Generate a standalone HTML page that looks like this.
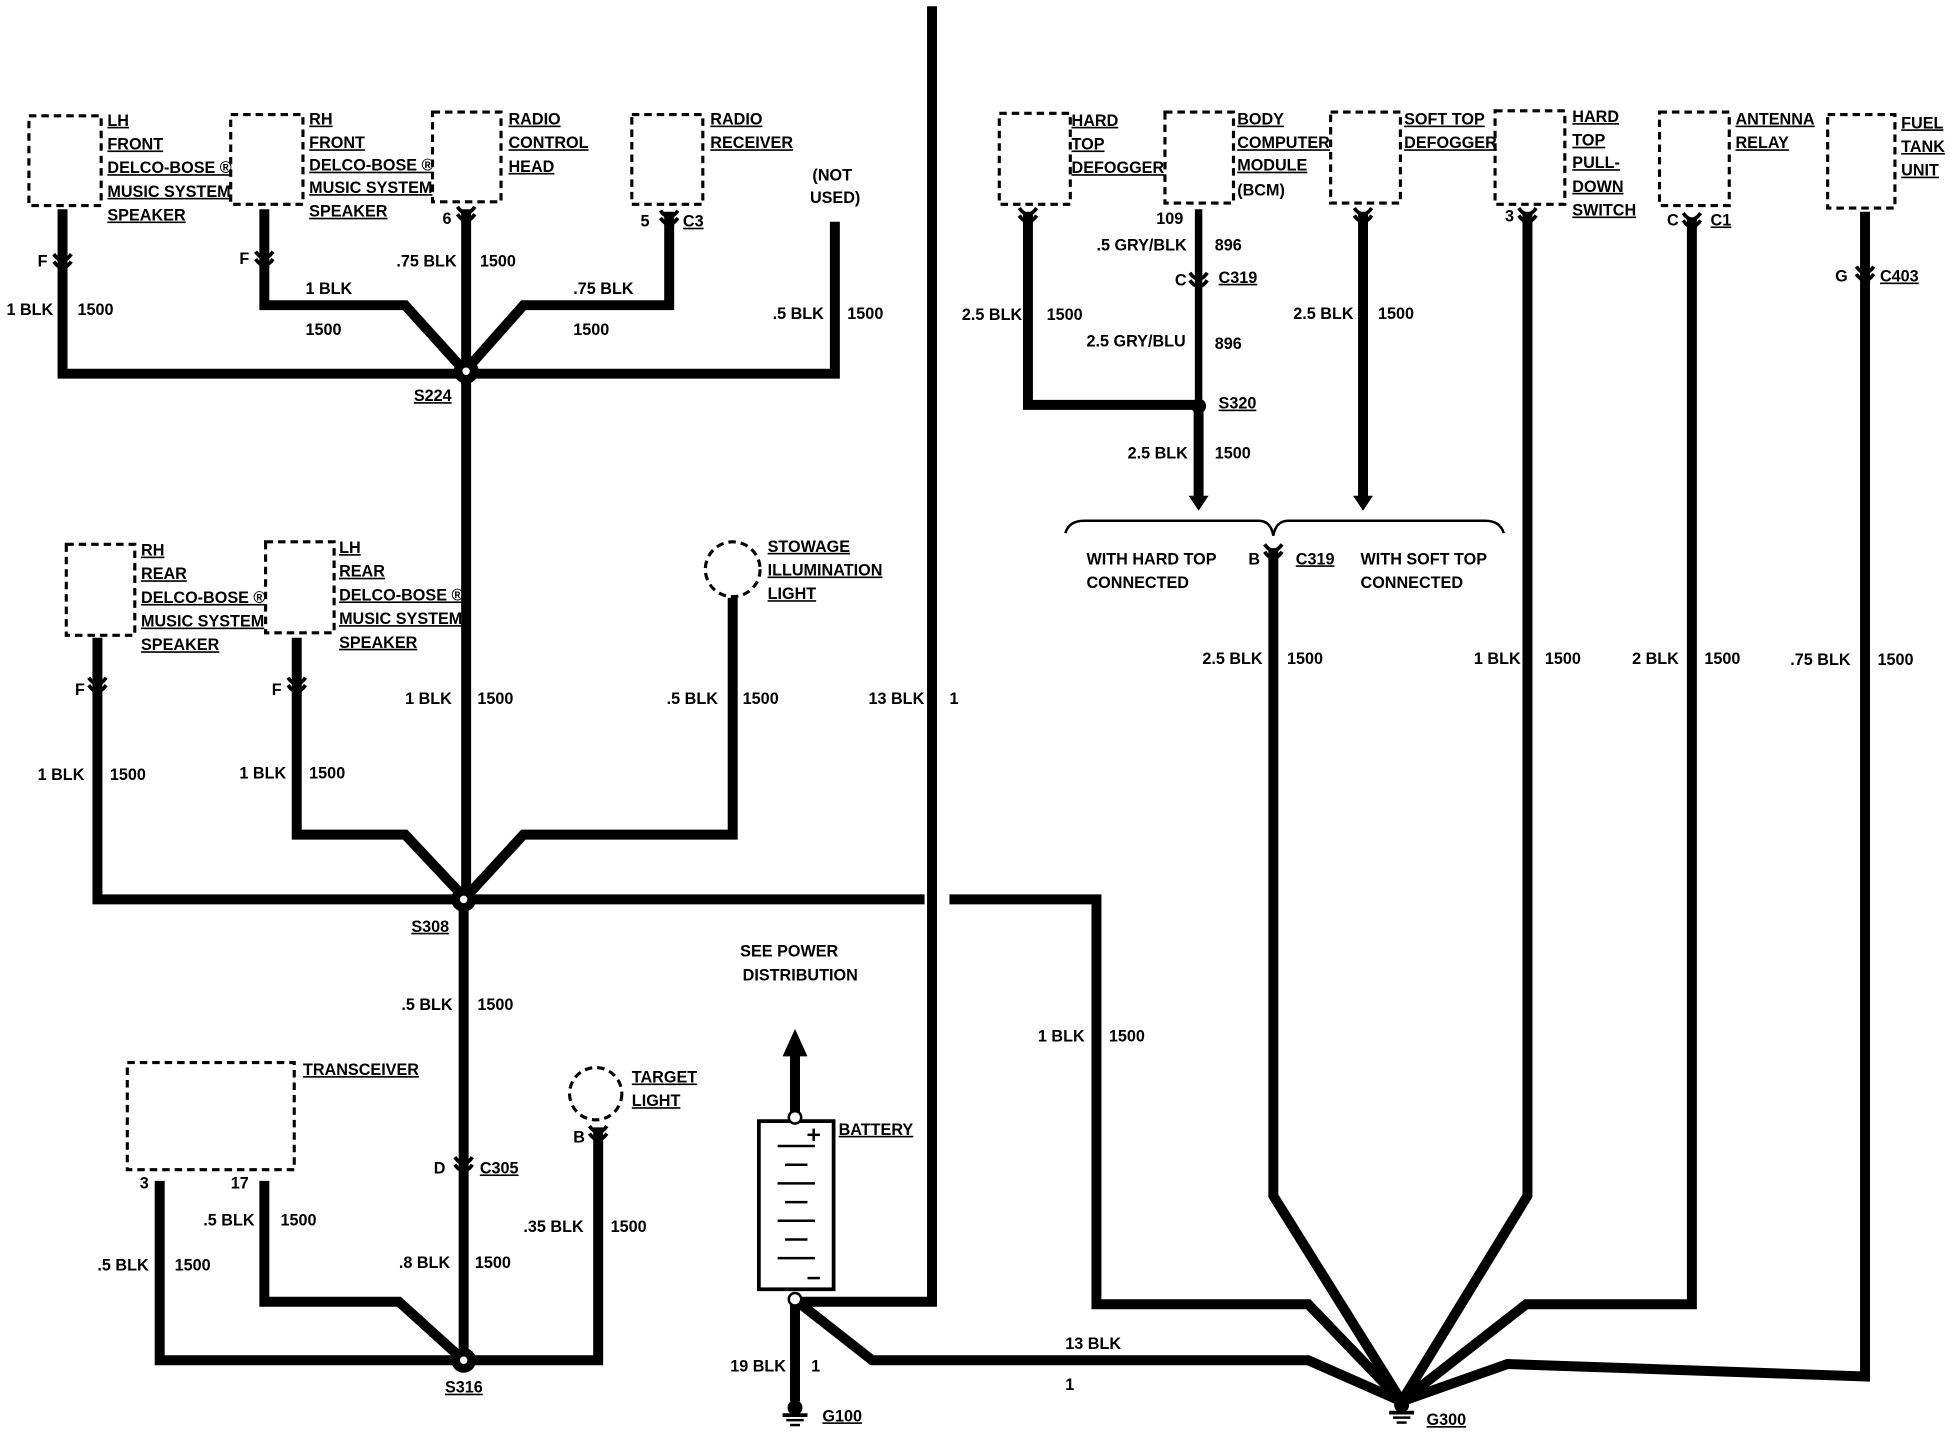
<!DOCTYPE html>
<html><head><meta charset="utf-8">
<style>
html,body{margin:0;padding:0;background:#fff;}
svg{display:block;}
text{font-family:"Liberation Sans",Arial,sans-serif;font-weight:bold;font-size:13px;fill:#000;}
.u{text-decoration:underline;}
</style></head>
<body>
<svg width="1950" height="1440" viewBox="0 0 1565 1156" xmlns="http://www.w3.org/2000/svg">
<defs>
<g id="cup"><path d="M-7,-6 Q0,4 7,-6" fill="none" stroke="#000" stroke-width="3"/><path d="M-7,0 Q0,10 7,0" fill="none" stroke="#000" stroke-width="3"/></g>
<g id="spl"><circle r="10" fill="#000"/><circle r="3" fill="#fff"/></g>
<g id="gnd"><circle r="6" fill="#000"/><line x1="-10" y1="6" x2="10" y2="6" stroke="#000" stroke-width="3"/><line x1="-7" y1="10" x2="7" y2="10" stroke="#000" stroke-width="2"/><line x1="-4" y1="14" x2="4" y2="14" stroke="#000" stroke-width="2"/></g>
</defs>
<g fill="none" stroke="#000" stroke-width="2.5" stroke-dasharray="6,4">
<rect x="23" y="93" width="58" height="72"/>
<rect x="185" y="92" width="58" height="72"/>
<rect x="347" y="90" width="55" height="72"/>
<rect x="507" y="92" width="57" height="72"/>
<rect x="53" y="437" width="55" height="73"/>
<rect x="213" y="435" width="55" height="73"/>
<circle cx="588" cy="457" r="22"/>
<rect x="102" y="853" width="134" height="86"/>
<circle cx="478" cy="878" r="21"/>
<rect x="802" y="91" width="57" height="73"/>
<rect x="935" y="90" width="55" height="73"/>
<rect x="1068" y="90" width="56" height="73"/>
<rect x="1200" y="89" width="56" height="75"/>
<rect x="1332" y="90" width="56" height="75"/>
<rect x="1467" y="92" width="54" height="75"/>
</g>
<g fill="none" stroke="#000" stroke-width="8" stroke-linejoin="miter">
<path d="M50,168 V300 H372"/>
<path d="M212,168 V245 H325 L372,297"/>
<path d="M374,168 V297"/>
<path d="M537,170 V245 H420 L374,297"/>
<path d="M670,178 V300 H374"/>
<path d="M374,298 V722"/>
<path d="M78,512 V722 H372"/>
<path d="M238,512 V670 H325 L372,720"/>
<path d="M588,480 V670 H420 L374,720"/>
<path d="M372,722 H742"/>
<path d="M748,5 V1045 H640"/>
<path d="M372,722 V1092"/>
<path d="M128,948 V1092 H372"/>
<path d="M212,948 V1045 H320 L372,1092"/>
<path d="M480,905 V1092 H372"/>
<path d="M638,1043 V1125"/>
<path d="M640,1045 L700,1092 H1050 L1125,1125"/>
<path d="M825,170 V325 H962"/>
<path d="M962,326 V400"/>
<path d="M1094,170 V400"/>
<path d="M1022,440 V960 L1125,1125"/>
<path d="M1226,170 V960 L1125,1125"/>
<path d="M1358,175 V1047 H1225 L1125,1125"/>
<path d="M1497,170 V1105 L1210,1095 L1125,1125"/>
<path d="M762,722 H880 V1047 H1050 L1125,1125"/>
<path d="M638,895 V845"/>
</g>
<path d="M962,168 V326" stroke="#000" stroke-width="6" fill="none"/>
<path d="M628,848 L638,826 L648,848 Z" fill="#000"/>
<path d="M954,398 L962,410 L970,398 Z" fill="#000"/>
<path d="M1086,398 L1094,410 L1102,398 Z" fill="#000"/>
<path d="M855,428 Q858,418 870,418 H1010 Q1020,418 1022,430 Q1024,418 1034,418 H1192 Q1204,418 1207,428" fill="none" stroke="#000" stroke-width="2"/>
<rect x="609" y="900" width="60" height="135" fill="#fff" stroke="#000" stroke-width="3"/>
<g stroke="#000" stroke-width="2"><line x1="624" y1="920" x2="654" y2="920"/><line x1="630" y1="935" x2="648" y2="935"/><line x1="624" y1="950" x2="654" y2="950"/><line x1="630" y1="965" x2="648" y2="965"/><line x1="624" y1="980" x2="654" y2="980"/><line x1="630" y1="995" x2="648" y2="995"/><line x1="624" y1="1010" x2="654" y2="1010"/>
<line x1="648" y1="911" x2="658" y2="911"/><line x1="653" y1="906" x2="653" y2="916"/><line x1="648" y1="1026" x2="658" y2="1026"/></g>
<circle cx="638" cy="897" r="5" fill="#fff" stroke="#000" stroke-width="2"/>
<circle cx="638" cy="1043" r="5" fill="#fff" stroke="#000" stroke-width="2"/>
<use href="#cup" x="50" y="210"/><use href="#cup" x="212" y="208"/><use href="#cup" x="374" y="172"/><use href="#cup" x="537" y="175"/>
<use href="#cup" x="78" y="550"/><use href="#cup" x="238" y="550"/><use href="#cup" x="372" y="935"/><use href="#cup" x="480" y="910"/>
<use href="#cup" x="962" y="225"/><use href="#cup" x="825" y="173"/><use href="#cup" x="1094" y="173"/><use href="#cup" x="1022" y="443"/><use href="#cup" x="1226" y="173"/><use href="#cup" x="1358" y="177"/><use href="#cup" x="1497" y="220"/>
<use href="#spl" x="374" y="298"/><use href="#spl" x="372" y="722"/><use href="#spl" x="372" y="1092"/>
<circle cx="962" cy="326" r="6" fill="#000"/>
<use href="#gnd" x="638" y="1130"/><use href="#gnd" x="1125" y="1128"/>
<g>
<text x="86" y="101" class="u">LH</text><text x="86" y="120" class="u">FRONT</text><text x="86" y="139" class="u">DELCO-BOSE ®</text><text x="86" y="158" class="u">MUSIC SYSTEM</text><text x="86" y="177" class="u">SPEAKER</text>
<text x="248" y="100" class="u">RH</text><text x="248" y="119" class="u">FRONT</text><text x="248" y="137" class="u">DELCO-BOSE ®</text><text x="248" y="155" class="u">MUSIC SYSTEM</text><text x="248" y="174" class="u">SPEAKER</text>
<text x="408" y="100" class="u">RADIO</text><text x="408" y="119" class="u">CONTROL</text><text x="408" y="138" class="u">HEAD</text>
<text x="570" y="100" class="u">RADIO</text><text x="570" y="119" class="u">RECEIVER</text>
<text x="652" y="145">(NOT</text><text x="650" y="163">USED)</text>
<text x="30" y="214">F</text><text x="192" y="212">F</text><text x="355" y="180">6</text><text x="514" y="182">5</text><text x="548" y="182" class="u">C3</text>
<text x="5" y="253">1 BLK</text><text x="62" y="253">1500</text>
<text x="245" y="236">1 BLK</text><text x="245" y="269">1500</text>
<text x="318" y="214">.75 BLK</text><text x="385" y="214">1500</text>
<text x="460" y="236">.75 BLK</text><text x="460" y="269">1500</text>
<text x="620" y="256">.5 BLK</text><text x="680" y="256">1500</text>
<text x="332" y="322" class="u">S224</text>
<text x="325" y="565">1 BLK</text><text x="383" y="565">1500</text>
<text x="113" y="446" class="u">RH</text><text x="113" y="465" class="u">REAR</text><text x="113" y="484" class="u">DELCO-BOSE ®</text><text x="113" y="503" class="u">MUSIC SYSTEM</text><text x="113" y="522" class="u">SPEAKER</text>
<text x="272" y="444" class="u">LH</text><text x="272" y="463" class="u">REAR</text><text x="272" y="482" class="u">DELCO-BOSE ®</text><text x="272" y="501" class="u">MUSIC SYSTEM</text><text x="272" y="520" class="u">SPEAKER</text>
<text x="616" y="443" class="u">STOWAGE</text><text x="616" y="462" class="u">ILLUMINATION</text><text x="616" y="481" class="u">LIGHT</text>
<text x="60" y="558">F</text><text x="218" y="558">F</text>
<text x="30" y="626">1 BLK</text><text x="88" y="626">1500</text>
<text x="192" y="625">1 BLK</text><text x="248" y="625">1500</text>
<text x="535" y="565">.5 BLK</text><text x="596" y="565">1500</text>
<text x="697" y="565">13 BLK</text><text x="762" y="565">1</text>
<text x="330" y="748" class="u">S308</text>
<text x="322" y="811">.5 BLK</text><text x="383" y="811">1500</text>
<text x="348" y="942">D</text><text x="385" y="942" class="u">C305</text>
<text x="320" y="1018">.8 BLK</text><text x="381" y="1018">1500</text>
<text x="243" y="863" class="u">TRANSCEIVER</text>
<text x="112" y="954">3</text><text x="185" y="954">17</text>
<text x="78" y="1020">.5 BLK</text><text x="140" y="1020">1500</text>
<text x="163" y="984">.5 BLK</text><text x="225" y="984">1500</text>
<text x="507" y="869" class="u">TARGET</text><text x="507" y="888" class="u">LIGHT</text>
<text x="460" y="917">B</text>
<text x="420" y="989">.35 BLK</text><text x="490" y="989">1500</text>
<text x="357" y="1118" class="u">S316</text>
<text x="594" y="768">SEE POWER</text><text x="596" y="787">DISTRIBUTION</text>
<text x="673" y="911" class="u">BATTERY</text>
<text x="586" y="1101">19 BLK</text><text x="651" y="1101">1</text>
<text x="660" y="1141" class="u">G100</text>
<text x="855" y="1083">13 BLK</text><text x="855" y="1116">1</text>
<text x="833" y="836">1 BLK</text><text x="890" y="836">1500</text>
<text x="860" y="101" class="u">HARD</text><text x="860" y="120" class="u">TOP</text><text x="860" y="139" class="u">DEFOGGER</text>
<text x="993" y="100" class="u">BODY</text><text x="993" y="119" class="u">COMPUTER</text><text x="993" y="137" class="u">MODULE</text><text x="993" y="157">(BCM)</text>
<text x="928" y="180">109</text><text x="880" y="201">.5 GRY/BLK</text><text x="975" y="201">896</text>
<text x="943" y="229">C</text><text x="978" y="227" class="u">C319</text>
<text x="872" y="278">2.5 GRY/BLU</text><text x="975" y="280">896</text>
<text x="772" y="257">2.5 BLK</text><text x="840" y="257">1500</text>
<text x="978" y="328" class="u">S320</text>
<text x="905" y="368">2.5 BLK</text><text x="975" y="368">1500</text>
<text x="1127" y="100" class="u">SOFT TOP</text><text x="1127" y="119" class="u">DEFOGGER</text>
<text x="1038" y="256">2.5 BLK</text><text x="1106" y="256">1500</text>
<text x="872" y="453">WITH HARD TOP</text><text x="872" y="472">CONNECTED</text>
<text x="1092" y="453">WITH SOFT TOP</text><text x="1092" y="472">CONNECTED</text>
<text x="1002" y="453">B</text><text x="1040" y="453" class="u">C319</text>
<text x="965" y="533">2.5 BLK</text><text x="1033" y="533">1500</text>
<text x="1262" y="98" class="u">HARD</text><text x="1262" y="117" class="u">TOP</text><text x="1262" y="135" class="u">PULL-</text><text x="1262" y="154" class="u">DOWN</text><text x="1262" y="173" class="u">SWITCH</text>
<text x="1208" y="178">3</text>
<text x="1183" y="533">1 BLK</text><text x="1240" y="533">1500</text>
<text x="1393" y="100" class="u">ANTENNA</text><text x="1393" y="119" class="u">RELAY</text>
<text x="1338" y="181">C</text><text x="1373" y="181" class="u">C1</text>
<text x="1310" y="533">2 BLK</text><text x="1368" y="533">1500</text>
<text x="1526" y="103" class="u">FUEL</text><text x="1526" y="122" class="u">TANK</text><text x="1526" y="141" class="u">UNIT</text>
<text x="1473" y="226">G</text><text x="1509" y="226" class="u">C403</text>
<text x="1437" y="534">.75 BLK</text><text x="1507" y="534">1500</text>
<text x="1145" y="1144" class="u">G300</text>
</g>
</svg>
</body></html>
